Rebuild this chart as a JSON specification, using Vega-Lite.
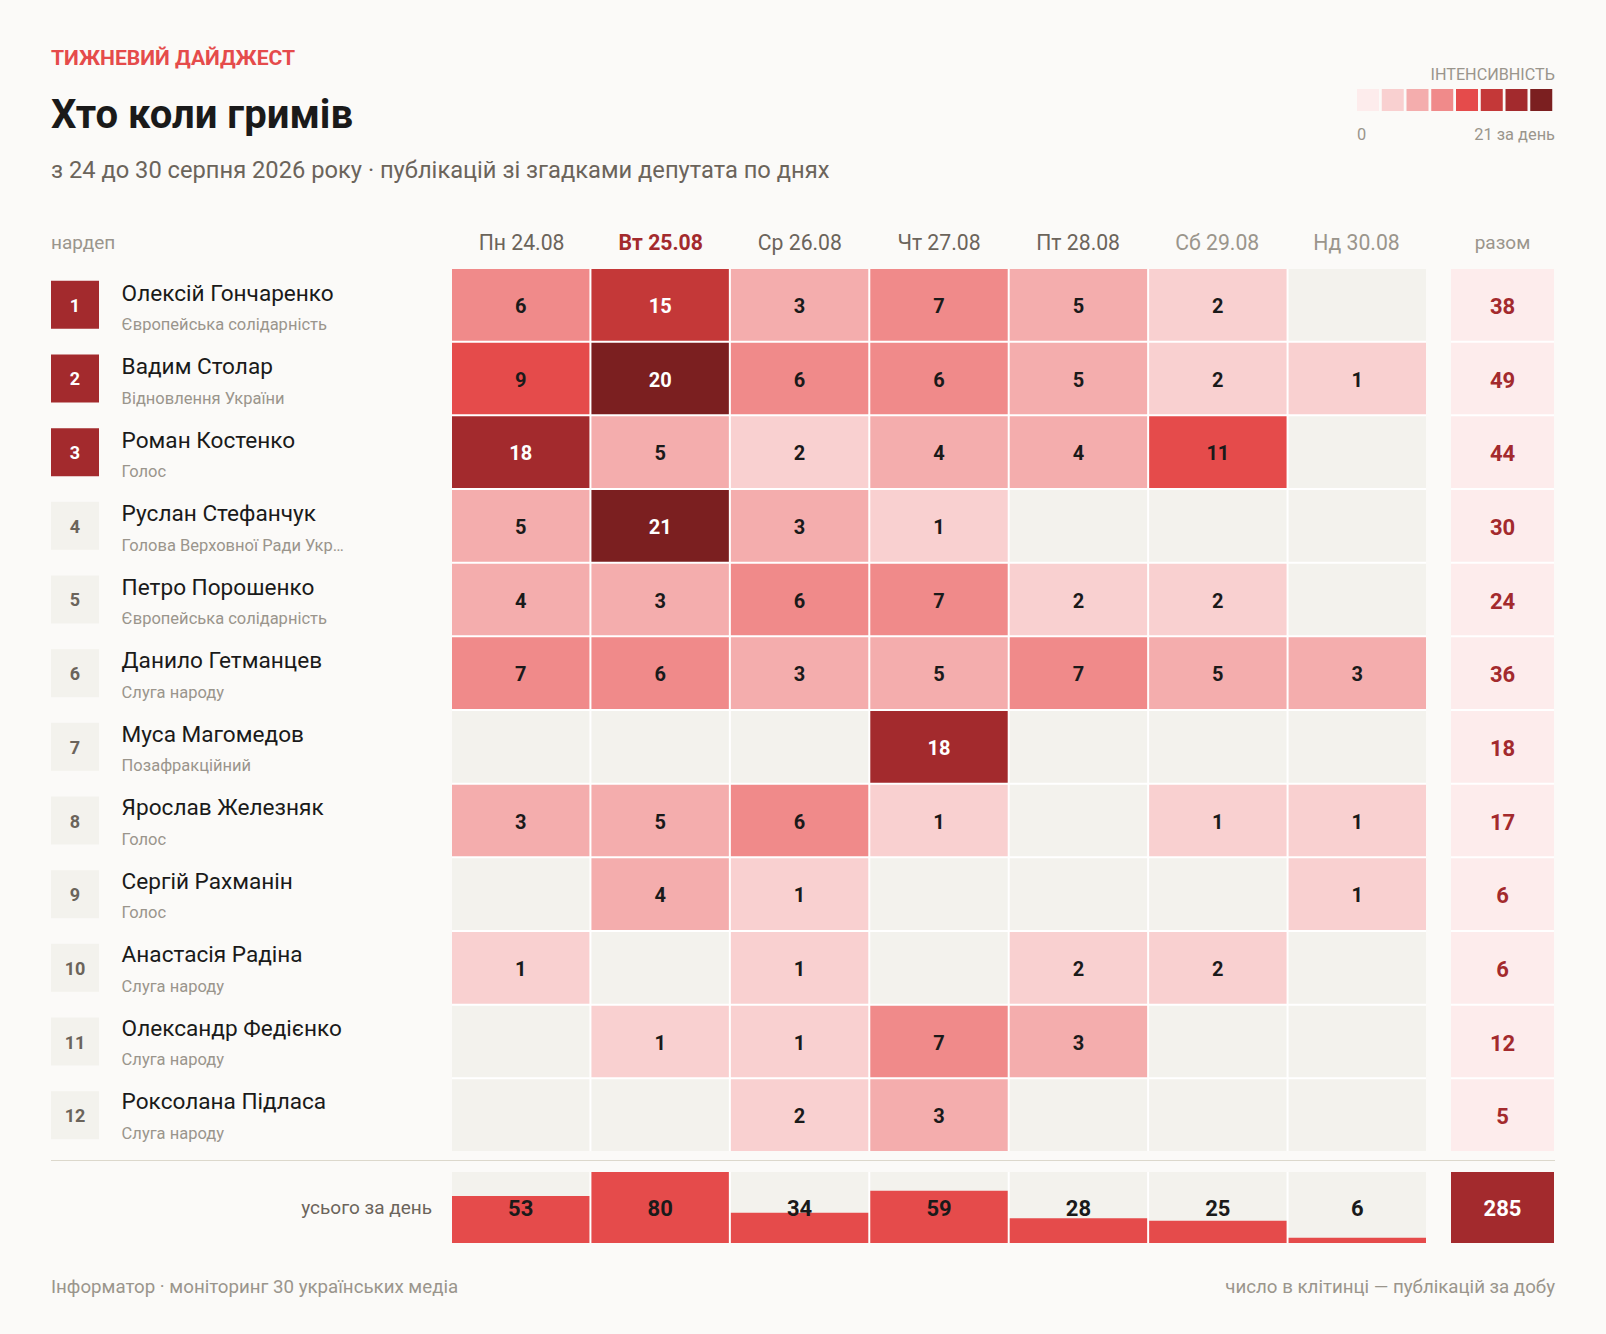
{"$schema":"https://vega.github.io/schema/vega-lite/v6.json","background":"#fbfaf8","padding":{"left":50,"right":51,"top":30,"bottom":0},"autosize":{"type":"pad"},"config":{"view":{"stroke":null},"font":"Roboto","text":{"font":"Roboto"}},"datasets":{"head":[{"role":"eyebrow","label":"ТИЖНЕВИЙ ДАЙДЖЕСТ"},{"role":"title","label":"Хто коли гримів"},{"role":"subtitle","label":"з 24 до 30 серпня 2026 року · публікацій зі згадками депутата по днях"}],"ramp":[{"step":"1"},{"step":"2"},{"step":"3"},{"step":"4"},{"step":"5"},{"step":"6"},{"step":"7"},{"step":"8"}],"days":[{"day":"Пн 24.08","total":53},{"day":"Вт 25.08","total":80},{"day":"Ср 26.08","total":34},{"day":"Чт 27.08","total":59},{"day":"Пт 28.08","total":28},{"day":"Сб 29.08","total":25},{"day":"Нд 30.08","total":6}],"deputies":[{"rank":1,"name":"Олексій Гончаренко","party":"Європейська солідарність","total":38},{"rank":2,"name":"Вадим Столар","party":"Відновлення України","total":49},{"rank":3,"name":"Роман Костенко","party":"Голос","total":44},{"rank":4,"name":"Руслан Стефанчук","party":"Голова Верховної Ради Укр…","total":30},{"rank":5,"name":"Петро Порошенко","party":"Європейська солідарність","total":24},{"rank":6,"name":"Данило Гетманцев","party":"Слуга народу","total":36},{"rank":7,"name":"Муса Магомедов","party":"Позафракційний","total":18},{"rank":8,"name":"Ярослав Железняк","party":"Голос","total":17},{"rank":9,"name":"Сергій Рахманін","party":"Голос","total":6},{"rank":10,"name":"Анастасія Радіна","party":"Слуга народу","total":6},{"rank":11,"name":"Олександр Федієнко","party":"Слуга народу","total":12},{"rank":12,"name":"Роксолана Підласа","party":"Слуга народу","total":5}],"cells":[{"name":"Олексій Гончаренко","day":"Пн 24.08","n":6},{"name":"Олексій Гончаренко","day":"Вт 25.08","n":15},{"name":"Олексій Гончаренко","day":"Ср 26.08","n":3},{"name":"Олексій Гончаренко","day":"Чт 27.08","n":7},{"name":"Олексій Гончаренко","day":"Пт 28.08","n":5},{"name":"Олексій Гончаренко","day":"Сб 29.08","n":2},{"name":"Олексій Гончаренко","day":"Нд 30.08","n":0},{"name":"Вадим Столар","day":"Пн 24.08","n":9},{"name":"Вадим Столар","day":"Вт 25.08","n":20},{"name":"Вадим Столар","day":"Ср 26.08","n":6},{"name":"Вадим Столар","day":"Чт 27.08","n":6},{"name":"Вадим Столар","day":"Пт 28.08","n":5},{"name":"Вадим Столар","day":"Сб 29.08","n":2},{"name":"Вадим Столар","day":"Нд 30.08","n":1},{"name":"Роман Костенко","day":"Пн 24.08","n":18},{"name":"Роман Костенко","day":"Вт 25.08","n":5},{"name":"Роман Костенко","day":"Ср 26.08","n":2},{"name":"Роман Костенко","day":"Чт 27.08","n":4},{"name":"Роман Костенко","day":"Пт 28.08","n":4},{"name":"Роман Костенко","day":"Сб 29.08","n":11},{"name":"Роман Костенко","day":"Нд 30.08","n":0},{"name":"Руслан Стефанчук","day":"Пн 24.08","n":5},{"name":"Руслан Стефанчук","day":"Вт 25.08","n":21},{"name":"Руслан Стефанчук","day":"Ср 26.08","n":3},{"name":"Руслан Стефанчук","day":"Чт 27.08","n":1},{"name":"Руслан Стефанчук","day":"Пт 28.08","n":0},{"name":"Руслан Стефанчук","day":"Сб 29.08","n":0},{"name":"Руслан Стефанчук","day":"Нд 30.08","n":0},{"name":"Петро Порошенко","day":"Пн 24.08","n":4},{"name":"Петро Порошенко","day":"Вт 25.08","n":3},{"name":"Петро Порошенко","day":"Ср 26.08","n":6},{"name":"Петро Порошенко","day":"Чт 27.08","n":7},{"name":"Петро Порошенко","day":"Пт 28.08","n":2},{"name":"Петро Порошенко","day":"Сб 29.08","n":2},{"name":"Петро Порошенко","day":"Нд 30.08","n":0},{"name":"Данило Гетманцев","day":"Пн 24.08","n":7},{"name":"Данило Гетманцев","day":"Вт 25.08","n":6},{"name":"Данило Гетманцев","day":"Ср 26.08","n":3},{"name":"Данило Гетманцев","day":"Чт 27.08","n":5},{"name":"Данило Гетманцев","day":"Пт 28.08","n":7},{"name":"Данило Гетманцев","day":"Сб 29.08","n":5},{"name":"Данило Гетманцев","day":"Нд 30.08","n":3},{"name":"Муса Магомедов","day":"Пн 24.08","n":0},{"name":"Муса Магомедов","day":"Вт 25.08","n":0},{"name":"Муса Магомедов","day":"Ср 26.08","n":0},{"name":"Муса Магомедов","day":"Чт 27.08","n":18},{"name":"Муса Магомедов","day":"Пт 28.08","n":0},{"name":"Муса Магомедов","day":"Сб 29.08","n":0},{"name":"Муса Магомедов","day":"Нд 30.08","n":0},{"name":"Ярослав Железняк","day":"Пн 24.08","n":3},{"name":"Ярослав Железняк","day":"Вт 25.08","n":5},{"name":"Ярослав Железняк","day":"Ср 26.08","n":6},{"name":"Ярослав Железняк","day":"Чт 27.08","n":1},{"name":"Ярослав Железняк","day":"Пт 28.08","n":0},{"name":"Ярослав Железняк","day":"Сб 29.08","n":1},{"name":"Ярослав Железняк","day":"Нд 30.08","n":1},{"name":"Сергій Рахманін","day":"Пн 24.08","n":0},{"name":"Сергій Рахманін","day":"Вт 25.08","n":4},{"name":"Сергій Рахманін","day":"Ср 26.08","n":1},{"name":"Сергій Рахманін","day":"Чт 27.08","n":0},{"name":"Сергій Рахманін","day":"Пт 28.08","n":0},{"name":"Сергій Рахманін","day":"Сб 29.08","n":0},{"name":"Сергій Рахманін","day":"Нд 30.08","n":1},{"name":"Анастасія Радіна","day":"Пн 24.08","n":1},{"name":"Анастасія Радіна","day":"Вт 25.08","n":0},{"name":"Анастасія Радіна","day":"Ср 26.08","n":1},{"name":"Анастасія Радіна","day":"Чт 27.08","n":0},{"name":"Анастасія Радіна","day":"Пт 28.08","n":2},{"name":"Анастасія Радіна","day":"Сб 29.08","n":2},{"name":"Анастасія Радіна","day":"Нд 30.08","n":0},{"name":"Олександр Федієнко","day":"Пн 24.08","n":0},{"name":"Олександр Федієнко","day":"Вт 25.08","n":1},{"name":"Олександр Федієнко","day":"Ср 26.08","n":1},{"name":"Олександр Федієнко","day":"Чт 27.08","n":7},{"name":"Олександр Федієнко","day":"Пт 28.08","n":3},{"name":"Олександр Федієнко","day":"Сб 29.08","n":0},{"name":"Олександр Федієнко","day":"Нд 30.08","n":0},{"name":"Роксолана Підласа","day":"Пн 24.08","n":0},{"name":"Роксолана Підласа","day":"Вт 25.08","n":0},{"name":"Роксолана Підласа","day":"Ср 26.08","n":2},{"name":"Роксолана Підласа","day":"Чт 27.08","n":3},{"name":"Роксолана Підласа","day":"Пт 28.08","n":0},{"name":"Роксолана Підласа","day":"Сб 29.08","n":0},{"name":"Роксолана Підласа","day":"Нд 30.08","n":0}]},"vconcat":[{"hconcat":[{"width":1306,"height":168,"data":{"name":"head"},"encoding":{"x":{"datum":0,"type":"quantitative","scale":{"domain":[0,1]},"axis":null},"y":{"field":"role","type":"nominal","sort":null,"scale":{"domain":["eyebrow","title","subtitle"],"paddingInner":0,"paddingOuter":0},"axis":null},"text":{"field":"label"}},"layer":[{"transform":[{"filter":"datum.role==='eyebrow'"}],"mark":{"type":"text","align":"left","baseline":"middle","fontSize":21.1,"fontWeight":"bold","dy":1,"fill":"#e54b4b"}},{"transform":[{"filter":"datum.role==='title'"}],"mark":{"type":"text","align":"left","baseline":"middle","fontSize":40.1,"fontWeight":"bold","dy":2,"fill":"#1a1a1a"}},{"transform":[{"filter":"datum.role==='subtitle'"}],"mark":{"type":"text","align":"left","baseline":"middle","fontSize":23.7,"dy":1,"fill":"#6b645b"}}]},{"spacing":0,"vconcat":[{"width":198,"height":59,"data":{"values":[{"label":"ІНТЕНСИВНІСТЬ"}]},"mark":{"type":"text","align":"right","baseline":"middle","fontSize":16.2,"dy":15,"fill":"#9a958c"},"encoding":{"x":{"datum":1,"type":"quantitative","scale":{"domain":[0,1]},"axis":null},"text":{"field":"label"}}},{"width":198,"height":22,"data":{"name":"ramp"},"mark":{"type":"rect"},"encoding":{"x":{"field":"step","type":"nominal","sort":null,"scale":{"paddingInner":0.111,"paddingOuter":0.0555,"align":0},"axis":null},"color":{"field":"step","type":"nominal","sort":null,"scale":{"range":["#fdecec","#f9d0d0","#f4adad","#f08a8a","#e54b4b","#c43838","#a32a2d","#7b1f20"]},"legend":null}}},{"width":198,"height":48,"layer":[{"data":{"values":[{"label":"0"}]},"mark":{"type":"text","align":"left","baseline":"middle","fontSize":16.4,"fill":"#9a958c"},"encoding":{"x":{"datum":0,"type":"quantitative","scale":{"domain":[0,1]},"axis":null},"text":{"field":"label"}}},{"data":{"values":[{"label":"21 за день"}]},"mark":{"type":"text","align":"right","baseline":"middle","fontSize":16.4,"fill":"#9a958c"},"encoding":{"x":{"datum":1,"type":"quantitative","scale":{"domain":[0,1]},"axis":null},"text":{"field":"label"}}}]}]}],"spacing":0},{"spacing":25,"hconcat":[{"width":376,"height":71,"data":{"values":[{"label":"нардеп"}]},"mark":{"type":"text","align":"left","baseline":"middle","fontSize":19,"dy":9,"fill":"#9a958c"},"encoding":{"x":{"datum":0,"type":"quantitative","scale":{"domain":[0,1]},"axis":null},"text":{"field":"label"}}},{"width":974,"height":71,"data":{"name":"days"},"encoding":{"x":{"field":"day","type":"nominal","scale":{"domain":["Пн 24.08","Вт 25.08","Ср 26.08","Чт 27.08","Пт 28.08","Сб 29.08","Нд 30.08"],"paddingInner":0.01434,"paddingOuter":0},"axis":null},"text":{"field":"day"}},"layer":[{"transform":[{"filter":"datum.day==='Вт 25.08'"}],"mark":{"type":"text","baseline":"middle","fontSize":21.2,"fontWeight":"bold","dy":10,"fill":"#a32a2d"}},{"transform":[{"filter":"datum.day==='Пн 24.08'||datum.day==='Ср 26.08'||datum.day==='Чт 27.08'||datum.day==='Пт 28.08'"}],"mark":{"type":"text","baseline":"middle","fontSize":21.2,"dy":10,"fill":"#6b645b"}},{"transform":[{"filter":"datum.day==='Сб 29.08'||datum.day==='Нд 30.08'"}],"mark":{"type":"text","baseline":"middle","fontSize":21.2,"dy":10,"fill":"#9a958c"}}]},{"width":103,"height":71,"data":{"values":[{"label":"разом"}]},"mark":{"type":"text","baseline":"middle","fontSize":19,"dy":9,"fill":"#9a958c"},"encoding":{"text":{"field":"label"}}}]},{"spacing":25,"hconcat":[{"spacing":22.6,"hconcat":[{"width":48,"height":882,"data":{"name":"deputies"},"encoding":{"y":{"field":"name","type":"nominal","sort":null,"scale":{"paddingInner":0.3487,"paddingOuter":0.16},"axis":null}},"layer":[{"mark":{"type":"rect"},"encoding":{"color":{"condition":{"test":"datum.rank<=3","value":"#a32a2d"},"value":"#f3f2ed"}}},{"mark":{"type":"text","baseline":"middle","fontSize":18,"fontWeight":"bold","dy":2},"encoding":{"text":{"field":"rank"},"color":{"condition":{"test":"datum.rank<=3","value":"#ffffff"},"value":"#6b645b"}}}]},{"width":305.4,"height":882,"data":{"name":"deputies"},"encoding":{"x":{"datum":0,"type":"quantitative","scale":{"domain":[0,1]},"axis":null},"y":{"field":"name","type":"nominal","sort":null,"scale":{"paddingInner":0.02715,"paddingOuter":0},"axis":null}},"layer":[{"mark":{"type":"text","align":"left","baseline":"middle","fontSize":22.6,"dy":-12,"fill":"#1a1a1a"},"encoding":{"text":{"field":"name"}}},{"mark":{"type":"text","align":"left","baseline":"middle","fontSize":16.5,"dy":19.5,"fill":"#9a958c"},"encoding":{"text":{"field":"party"}}}]}]},{"width":974,"height":882,"view":{"fill":"#ffffff"},"data":{"name":"cells"},"encoding":{"x":{"field":"day","type":"nominal","sort":null,"scale":{"paddingInner":0.01434,"paddingOuter":0},"axis":null},"y":{"field":"name","type":"nominal","sort":null,"scale":{"paddingInner":0.02715,"paddingOuter":0},"axis":null}},"layer":[{"mark":{"type":"rect"},"encoding":{"color":{"field":"n","type":"quantitative","scale":{"type":"threshold","domain":[1,3,6,8,12,16,20],"range":["#f3f2ed","#f9d0d0","#f4adad","#f08a8a","#e54b4b","#c43838","#a32a2d","#7b1f20"]},"legend":null}}},{"transform":[{"filter":"datum.n>0"}],"mark":{"type":"text","baseline":"middle","fontSize":20,"fontWeight":"bold","dy":2},"encoding":{"text":{"field":"n"},"color":{"condition":{"test":"datum.n>=12","value":"#ffffff"},"value":"#1a1a1a"}}}]},{"width":103,"height":882,"view":{"fill":"#ffffff"},"data":{"name":"deputies"},"encoding":{"y":{"field":"name","type":"nominal","sort":null,"scale":{"paddingInner":0.02715,"paddingOuter":0},"axis":null}},"layer":[{"mark":{"type":"rect","fill":"#fdecec"}},{"mark":{"type":"text","baseline":"middle","fontSize":22,"fontWeight":"bold","dy":2,"fill":"#a32a2d"},"encoding":{"text":{"field":"total"}}}]}]},{"width":1504,"height":20,"data":{"values":[{"line":"separator"}]},"mark":{"type":"rule","stroke":"#dcd8cc","strokeWidth":1},"encoding":{"y":{"datum":0.575,"type":"quantitative","scale":{"domain":[0,1]},"axis":null}}},{"spacing":20,"hconcat":[{"width":381,"height":71,"data":{"values":[{"label":"усього за день"}]},"mark":{"type":"text","align":"right","baseline":"middle","fontSize":19,"fill":"#6b645b"},"encoding":{"x":{"datum":1,"type":"quantitative","scale":{"domain":[0,1]},"axis":null},"text":{"field":"label"}}},{"spacing":25,"hconcat":[{"width":974,"height":71,"view":{"fill":"#ffffff"},"data":{"name":"days"},"encoding":{"x":{"field":"day","type":"nominal","sort":null,"scale":{"paddingInner":0.01434,"paddingOuter":0},"axis":null}},"layer":[{"mark":{"type":"rect","fill":"#f3f2ed"}},{"mark":{"type":"bar","fill":"#e54b4b"},"encoding":{"y":{"field":"total","type":"quantitative","scale":{"domain":[0,80]},"axis":null}}},{"mark":{"type":"text","baseline":"middle","fontSize":22,"fontWeight":"bold","dy":1,"fill":"#1a1a1a"},"encoding":{"text":{"field":"total"}}}]},{"width":103,"height":71,"data":{"values":[{"total":285}]},"layer":[{"mark":{"type":"rect","fill":"#a32a2d"}},{"mark":{"type":"text","baseline":"middle","fontSize":22,"fontWeight":"bold","dy":1,"fill":"#ffffff"},"encoding":{"text":{"field":"total"}}}]}]}]},{"width":1504,"height":92,"layer":[{"data":{"values":[{"label":"Інформатор · моніторинг 30 українських медіа"}]},"mark":{"type":"text","align":"left","baseline":"middle","fontSize":18.7,"dy":-2.5,"fill":"#9a958c"},"encoding":{"x":{"datum":0,"type":"quantitative","scale":{"domain":[0,1]},"axis":null},"text":{"field":"label"}}},{"data":{"values":[{"label":"число в клітинці — публікацій за добу"}]},"mark":{"type":"text","align":"right","baseline":"middle","fontSize":18.7,"dy":-2.5,"fill":"#9a958c"},"encoding":{"x":{"datum":1,"type":"quantitative","scale":{"domain":[0,1]},"axis":null},"text":{"field":"label"}}}]}],"spacing":0}
